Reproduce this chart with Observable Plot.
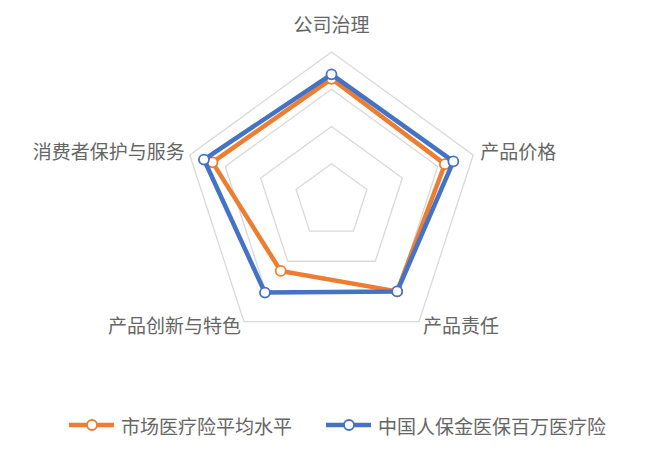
<!DOCTYPE html>
<html>
<head>
<meta charset="utf-8">
<script src="https://cdn.jsdelivr.net/npm/d3@7"></script>
<script src="https://cdn.jsdelivr.net/npm/@observablehq/plot@0.6"></script>
<style>
  body { margin: 0; background: #fff; font-family: "Noto Sans CJK SC", sans-serif; }
  #chart svg { display: block; }
  .legend { display: flex; align-items: center; margin-top: 13px; margin-left: 69px; height: 24px; gap: 34px; }
  .item { display: flex; align-items: center; gap: 7px; font-size: 19px; color: #666; }
</style>
</head>
<body>
<div id="chart"></div>
<div class="legend" id="legend"></div>
<script>
// ---- data ----
const axes = ["公司治理", "产品价格", "产品责任", "产品创新与特色", "消费者保护与服务"];
const marketAvg = [82, 80, 75, 58, 84];
const picc = [85, 86, 75, 76, 90];
const gridLevels = [25, 50, 75, 100];
const seriesNames = ["市场医疗险平均水平", "中国人保金医保百万医疗险"];
const seriesColors = ["#ED7D31", "#4472C4"];

// ---- geometry helpers ----
const angle = i => Math.PI / 2 - i * 2 * Math.PI / axes.length;
const pt = (v, i) => ({ x: v * Math.cos(angle(i)), y: v * Math.sin(angle(i)) });

const gridRows = gridLevels.flatMap(level =>
  [...axes.keys(), 0].map(i => ({ level, ...pt(level, i) })));

function seriesRows(values, name) {
  return [...axes.keys(), 0].map(i => ({ name, axis: axes[i], ...pt(values[i], i) }));
}
const s1 = seriesRows(marketAvg, seriesNames[0]);
const s2 = seriesRows(picc, seriesNames[1]);

const labelLayout = [
  { anchor: "middle", dx: 0, dy: -26 },
  { anchor: "start", dx: 7, dy: -2 },
  { anchor: "start", dx: 4, dy: 5 },
  { anchor: "end", dx: -3, dy: 5 },
  { anchor: "end", dx: -5, dy: -2 }
];
const labelMarks = axes.map((a, i) => Plot.text([{ text: a, ...pt(100, i) }], {
  x: "x", y: "y", text: "text",
  textAnchor: labelLayout[i].anchor, dx: labelLayout[i].dx, dy: labelLayout[i].dy,
  fontSize: 19, fill: "#666", fontFamily: "Noto Sans CJK SC"
}));

const cx = 331, cy = 200.5, R = 149;
const chart = Plot.plot({
  width: 649,
  height: 400,
  margin: 0,
  x: { domain: [-100, 100], range: [cx - R, cx + R], axis: null },
  y: { domain: [-100, 100], range: [cy + R, cy - R], axis: null },
  style: { fontFamily: "Noto Sans CJK SC", background: "#fff" },
  marks: [
    Plot.line(gridRows, { x: "x", y: "y", z: "level", stroke: "#d9d9d9", strokeWidth: 1.3 }),
    Plot.line(s1, { x: "x", y: "y", stroke: seriesColors[0], strokeWidth: 4.5, strokeLinejoin: "round" }),
    Plot.dot(s1.slice(0, axes.length), { x: "x", y: "y", r: 5, fill: "#fff", stroke: seriesColors[0], strokeWidth: 1.8 }),
    Plot.line(s2, { x: "x", y: "y", stroke: seriesColors[1], strokeWidth: 4.5, strokeLinejoin: "round" }),
    Plot.dot(s2.slice(0, axes.length), { x: "x", y: "y", r: 5, fill: "#fff", stroke: seriesColors[1], strokeWidth: 1.8 }),
    ...labelMarks
  ]
});
document.getElementById("chart").appendChild(chart);

// ---- legend ----
const legend = document.getElementById("legend");
seriesNames.forEach((name, i) => {
  const item = document.createElement("div");
  item.className = "item";
  item.innerHTML = `<svg width="45" height="14"><line x1="0" y1="7" x2="45" y2="7" stroke="${seriesColors[i]}" stroke-width="4.5"/><circle cx="${i === 0 ? 23 : 23}" cy="7" r="5" fill="#fff" stroke="${seriesColors[i]}" stroke-width="1.8"/></svg><span>${name}</span>`;
  legend.appendChild(item);
});
</script>
</body>
</html>
